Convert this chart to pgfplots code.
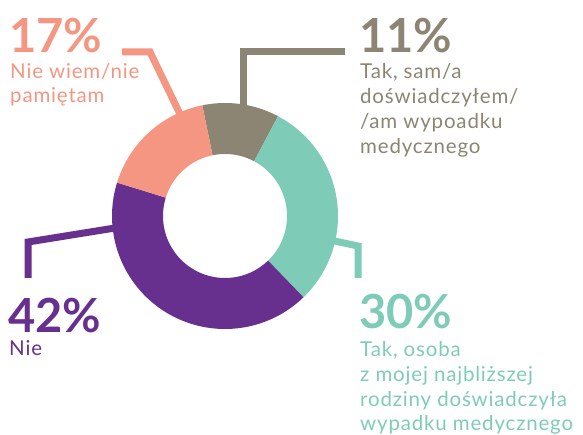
\documentclass[border=0pt]{standalone}
\usepackage{fontspec}
\setmainfont{Lato}
\newfontfamily\labfont[LetterSpace=4]{Lato}
\usepackage{pgfplots}
\usepackage{pgfplotstable}
\pgfplotsset{compat=1.18}
\definecolor{cSalmon}{RGB}{245,150,130}
\definecolor{cGray}{RGB}{140,133,115}
\definecolor{cTeal}{RGB}{126,204,184}
\definecolor{cPurple}{RGB}{103,48,142}
\pgfplotstableread{
label value
gray 11
teal 30
purple 42
salmon 17
}\piedata
\pgfplotstablegetelem{0}{value}\of\piedata \let\vA\pgfplotsretval
\pgfplotstablegetelem{1}{value}\of\piedata \let\vB\pgfplotsretval
\pgfplotstablegetelem{2}{value}\of\piedata \let\vC\pgfplotsretval
\pgfplotstablegetelem{3}{value}\of\piedata \let\vD\pgfplotsretval
\pgfmathsetmacro\aA{101.6}
\pgfmathsetmacro\aB{\aA-\vA*3.6}
\pgfmathsetmacro\aC{\aB-\vB*3.6}
\pgfmathsetmacro\aD{\aC-\vC*3.6}
\pgfmathsetmacro\aE{\aD-\vD*3.6}
\newcommand{\slice}[3]{%
  \fill[#3] plot[domain=#1:#2, samples=80, variable=\t] ({225+113*cos(\t)},{218+113*sin(\t)})
    -- plot[domain=#2:#1, samples=80, variable=\t] ({225+62*cos(\t)},{218+62*sin(\t)}) -- cycle;}
\newcommand{\bignum}[1]{{\fontsize{47}{47}\selectfont\bfseries #1}}
\newcommand{\lab}[1]{{\labfont\fontsize{20.5}{24}\selectfont #1}}
\begin{document}
\begin{tikzpicture}
\begin{axis}[hide axis, scale only axis, width=583pt, height=434pt,
  xmin=0, xmax=583, ymin=0, ymax=434, clip=true]
\slice{\aA}{\aB}{cGray}
\slice{\aB}{\aC}{cTeal}
\slice{\aC}{\aD}{cPurple}
\slice{\aD}{\aE}{cSalmon}
% leader lines
\draw[cSalmon, line width=7pt, miter limit=10] (122,382) -- (150,382) -- (180,320);
\draw[cGray, line width=7pt] (243,326) -- (243,382) -- (345,382);
\draw[cTeal, line width=7pt] (330,194) -- (358,188) -- (358,156);
\draw[cPurple, line width=7pt] (115,206) -- (28,192) -- (28,156);
% texts
\begin{scope}[every node/.style={anchor=base west, inner sep=0pt},
  num/.style={text depth=0pt}]
\node[cSalmon, num] at (9,381) {\bignum{17\%}};
\node[cSalmon] at (10,355) {\lab{Nie wiem/nie}};
\node[cSalmon] at (10,331) {\lab{pamiętam}};
\node[cGray, num] at (359,381) {\bignum{11\%}};
\node[cGray] at (360,355) {\lab{Tak, sam/a}};
\node[cGray] at (360,330) {\lab{doświadczyłem/}};
\node[cGray] at (360,305) {\lab{/am wypoadku}};
\node[cGray] at (360,280) {\lab{medycznego}};
\node[cTeal, num] at (359,106) {\bignum{30\%}};
\node[cTeal] at (360,78) {\lab{Tak, osoba}};
\node[cTeal] at (360,53) {\lab{z mojej najbliższej}};
\node[cTeal] at (360,28) {\lab{rodziny doświadczyła}};
\node[cTeal] at (360,4) {\lab{wypadku medycznego}};
\node[cPurple, num] at (8,102) {\bignum{42\%}};
\node[cPurple] at (9,79) {\lab{Nie}};
\end{scope}
\end{axis}
\pgfresetboundingbox
\path[use as bounding box] (current axis.south west) rectangle (current axis.north east);
\end{tikzpicture}
\end{document}
